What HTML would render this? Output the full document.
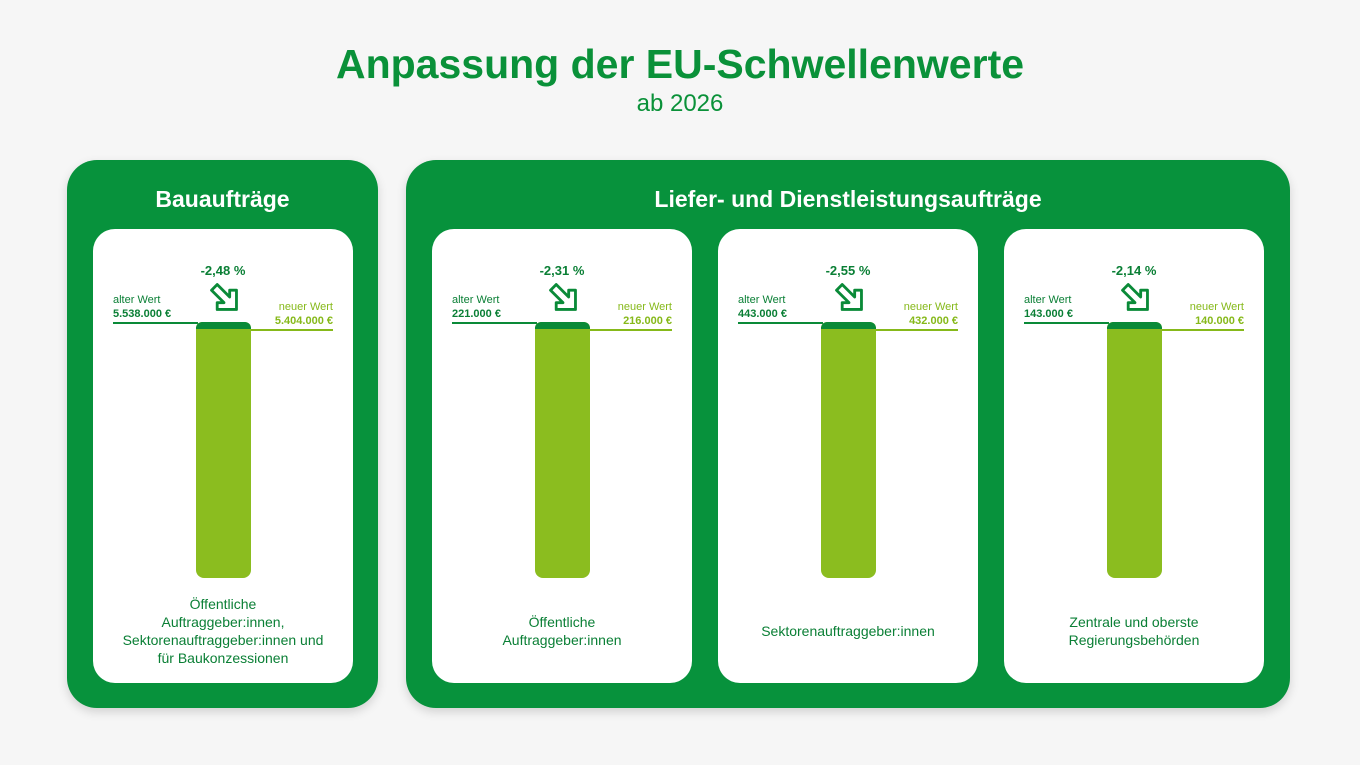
<!DOCTYPE html>
<html><head><meta charset="utf-8"><style>
*{margin:0;padding:0;box-sizing:border-box}
body{width:1360px;height:765px;background:#f6f6f6;font-family:"Liberation Sans",sans-serif;position:relative;overflow:hidden}
.t{position:absolute;left:0;width:1360px;text-align:center;color:#0a9139}
.panel{position:absolute;top:160px;height:548px;background:#07923c;border-radius:30px;box-shadow:0 4px 10px rgba(0,0,0,.15)}
.ph{position:absolute;top:186px;color:#fff;font-weight:bold;font-size:23px;text-align:center}
.card{position:absolute;top:229px;width:260px;height:454px;background:#fff;border-radius:22px}
.card div{position:absolute}
.pct{left:90px;width:80px;top:34px;text-align:center;color:#0a7f35;font-weight:bold;font-size:13px}
.al{left:20px;top:64px;font-size:11px;color:#0a7f35;line-height:14px}
.al b{font-size:11px}
.nw{right:20px;top:71px;font-size:11px;color:#86b91a;line-height:14px;text-align:right}
.l1{left:20px;width:85px;top:93px;height:2px;background:#0a8a38}
.l2{left:157px;width:83px;top:100px;height:2px;background:#86b91a}
.bar{left:103px;width:55px;top:93px;height:256px;background:#8bbd1f;border-radius:6px 6px 8px 8px;overflow:hidden}
.bar i{position:absolute;left:0;top:0;width:55px;height:7px;background:#0a8a38;border-radius:6px 6px 0 0}
.arr{left:114px;top:51px}
.lab{left:10px;width:240px;text-align:center;font-size:14px;color:#0a7f35;line-height:18px}
</style></head><body>
<div class="t" style="top:41px;font-size:41px;font-weight:bold">Anpassung der EU-Schwellenwerte</div>
<div class="t" style="top:90px;font-size:24px">ab 2026</div>
<div class="panel" style="left:67px;width:311px"></div>
<div class="panel" style="left:406px;width:884px"></div>
<div class="ph" style="left:67px;width:311px">Bauaufträge</div>
<div class="ph" style="left:406px;width:884px">Liefer- und Dienstleistungsaufträge</div>

<div class="card" style="left:93px">
<div class="pct">-2,48 %</div>
<div class="arr"><svg width="34" height="34" viewBox="0 0 30 30"><path d="M4 9 L9 4 L20 15 L20 9 L26 9 L26 26 L9 26 L9 20 L15 20 Z" fill="none" stroke="#0a8a38" stroke-width="2.5" stroke-linejoin="round"/></svg></div>
<div class="al">alter Wert<br><b>5.538.000 €</b></div>
<div class="nw">neuer Wert<br><b>5.404.000 €</b></div>
<div class="l1"></div><div class="l2"></div>
<div class="bar"><i></i></div>
<div class="lab" style="top:366px">Öffentliche<br>Auftraggeber:innen,<br>Sektorenauftraggeber:innen und<br>für Baukonzessionen</div>
</div>

<div class="card" style="left:432px">
<div class="pct">-2,31 %</div>
<div class="arr"><svg width="34" height="34" viewBox="0 0 30 30"><path d="M4 9 L9 4 L20 15 L20 9 L26 9 L26 26 L9 26 L9 20 L15 20 Z" fill="none" stroke="#0a8a38" stroke-width="2.5" stroke-linejoin="round"/></svg></div>
<div class="al">alter Wert<br><b>221.000 €</b></div>
<div class="nw">neuer Wert<br><b>216.000 €</b></div>
<div class="l1"></div><div class="l2"></div>
<div class="bar"><i></i></div>
<div class="lab" style="top:384px">Öffentliche<br>Auftraggeber:innen</div>
</div>

<div class="card" style="left:718px">
<div class="pct">-2,55 %</div>
<div class="arr"><svg width="34" height="34" viewBox="0 0 30 30"><path d="M4 9 L9 4 L20 15 L20 9 L26 9 L26 26 L9 26 L9 20 L15 20 Z" fill="none" stroke="#0a8a38" stroke-width="2.5" stroke-linejoin="round"/></svg></div>
<div class="al">alter Wert<br><b>443.000 €</b></div>
<div class="nw">neuer Wert<br><b>432.000 €</b></div>
<div class="l1"></div><div class="l2"></div>
<div class="bar"><i></i></div>
<div class="lab" style="top:393px">Sektorenauftraggeber:innen</div>
</div>

<div class="card" style="left:1004px">
<div class="pct">-2,14 %</div>
<div class="arr"><svg width="34" height="34" viewBox="0 0 30 30"><path d="M4 9 L9 4 L20 15 L20 9 L26 9 L26 26 L9 26 L9 20 L15 20 Z" fill="none" stroke="#0a8a38" stroke-width="2.5" stroke-linejoin="round"/></svg></div>
<div class="al">alter Wert<br><b>143.000 €</b></div>
<div class="nw">neuer Wert<br><b>140.000 €</b></div>
<div class="l1"></div><div class="l2"></div>
<div class="bar"><i></i></div>
<div class="lab" style="top:384px">Zentrale und oberste<br>Regierungsbehörden</div>
</div>
</body></html>
